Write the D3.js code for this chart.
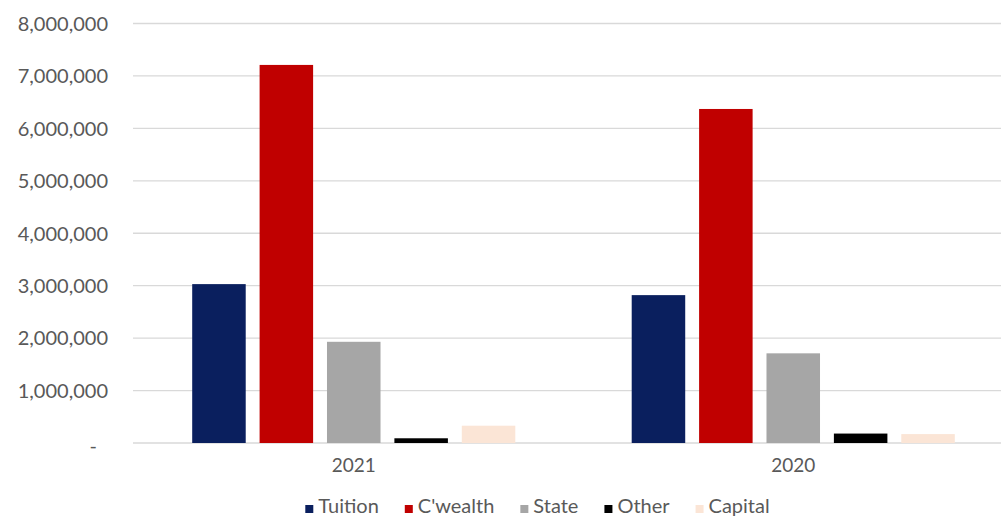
<!DOCTYPE html>
<html>
<head>
<meta charset="utf-8">
<script src="https://cdn.jsdelivr.net/npm/d3@7"></script>
<style>
  html, body { margin: 0; padding: 0; background: #ffffff; }
  svg { display: block; }
  text { font-family: Lato, "Open Sans", sans-serif; fill: #595959; }
</style>
</head>
<body>
<svg id="chart" width="1005" height="519"></svg>
<script>
// ---- Data ----
const categories = ["2021", "2020"];
const seriesNames = ["Tuition", "C'wealth", "State", "Other", "Capital"];
const seriesColors = ["#0A1F5E", "#C00000", "#A6A6A6", "#000000", "#FBE5D6"];
const values2021 = [3030000, 7210000, 1930000, 90000, 330000];
const values2020 = [2820000, 6370000, 1710000, 180000, 170000];
const yTicks = [0, 1000000, 2000000, 3000000, 4000000, 5000000, 6000000, 7000000, 8000000];

const valuesByCategory = { "2021": values2021, "2020": values2020 };

// ---- Layout ----
const svg = d3.select("#chart");
const plotLeft = 133, plotRight = 1001;
const yTop = 23.5, yBottom = 443;

const y = d3.scaleLinear().domain([0, 8000000]).range([yBottom, yTop]);
const x0 = d3.scaleBand().domain(categories).range([134, 1013]).padding(0);
const groupPad = 58.2;
const x1 = d3.scaleBand().domain(seriesNames)
  .range([groupPad, x0.bandwidth() - groupPad])
  .paddingInner(0.206).paddingOuter(0);
const color = d3.scaleOrdinal().domain(seriesNames).range(seriesColors);

// gridlines
svg.append("g").selectAll("line").data(yTicks).join("line")
  .attr("x1", plotLeft).attr("x2", plotRight)
  .attr("y1", d => y(d)).attr("y2", d => y(d))
  .attr("stroke", "#D9D9D9").attr("stroke-width", 1.3);

// y axis labels
const fmt = d3.format(",");
const yAxis = svg.append("g")
  .attr("transform", `translate(${plotLeft},0)`)
  .call(d3.axisLeft(y).tickValues(yTicks).tickSize(0).tickPadding(25)
    .tickFormat(d => d === 0 ? "-" : fmt(d)));
yAxis.select(".domain").remove();
yAxis.selectAll("text")
  .style("font-size", "20px")
  .style("font-family", "Lato, 'Open Sans', sans-serif")
  .attr("fill", "#595959")
  .attr("dx", d => d === 0 ? -11 : 0)
  .attr("dy", d => d === 0 ? "0.45em" : "0.34em");

// bars
const groups = svg.append("g").selectAll("g").data(categories).join("g")
  .attr("transform", d => `translate(${x0(d)},0)`);
groups.selectAll("rect")
  .data(c => seriesNames.map((s, i) => ({ series: s, value: valuesByCategory[c][i] })))
  .join("rect")
  .attr("x", d => x1(d.series))
  .attr("width", x1.bandwidth())
  .attr("y", d => y(d.value))
  .attr("height", d => y(0) - y(d.value))
  .attr("fill", d => color(d.series));

// x axis labels
const xAxis = svg.append("g")
  .attr("transform", `translate(0,${yBottom})`)
  .call(d3.axisBottom(x0).tickSize(0).tickPadding(16));
xAxis.select(".domain").remove();
xAxis.selectAll("text")
  .style("font-size", "19px")
  .style("font-family", "Lato, 'Open Sans', sans-serif")
  .attr("fill", "#595959");

// legend
const legend = svg.append("g");
const items = legend.selectAll("g").data(seriesNames).join("g");
items.append("rect")
  .attr("width", 8).attr("height", 8)
  .attr("y", -8)
  .attr("fill", d => color(d));
items.append("text")
  .attr("x", 13)
  .attr("y", 0)
  .style("font-size", "20px")
  .text(d => d);
let cursor = 0;
items.each(function () {
  const g = d3.select(this);
  const w = 13 + g.select("text").node().getComputedTextLength();
  g.attr("transform", `translate(${cursor},0)`);
  cursor += w + 26;
});
const totalW = cursor - 26;
legend.attr("transform", `translate(${537.5 - totalW / 2},513)`);
</script>
</body>
</html>
